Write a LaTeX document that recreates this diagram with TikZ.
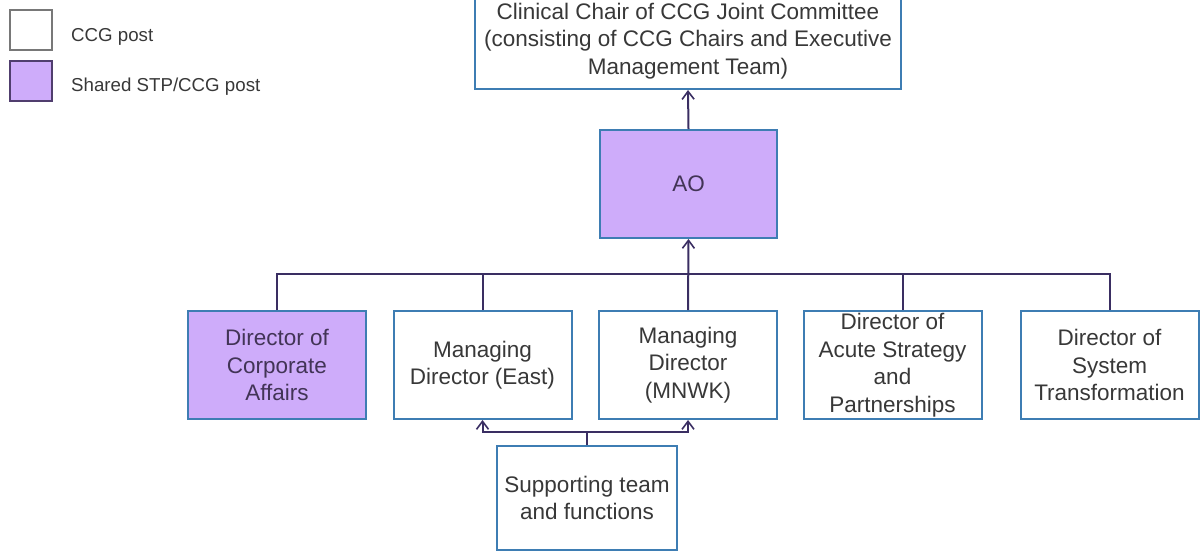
\documentclass[tikz,border=0pt]{standalone}
\usepackage{fontspec}
\setmainfont{Liberation Sans}
\usetikzlibrary{arrows.meta}
\definecolor{boxblue}{RGB}{62,125,179}
\definecolor{lilac}{RGB}{206,172,250}
\definecolor{conncol}{RGB}{58,46,98}
\definecolor{txtgray}{RGB}{56,56,56}
\definecolor{txtpurple}{RGB}{66,52,86}
\definecolor{leggray}{RGB}{120,120,120}
\definecolor{legpurple}{RGB}{80,62,110}
\begin{document}
\begin{tikzpicture}[x=1pt,y=-1pt,
  post/.style={draw=boxblue,line width=2pt,fill=white,inner sep=0pt,
    minimum width=178pt,minimum height=108pt,align=center,text=txtgray,
    font=\fontsize{22.5}{27.5}\selectfont},
  shared/.style={post,fill=lilac,text=txtpurple},
  conn/.style={draw=conncol,line width=2pt},
  arr/.style={conn,-{Straight Barb[length=8pt,width=12pt,line width=1.6pt]}},
  legbox/.style={line width=2.2pt,minimum width=42pt,minimum height=40pt,inner sep=0pt},
  legtext/.style={anchor=west,inner sep=0pt,text=txtgray,font=\fontsize{18.7}{22}\selectfont}
]
\useasboundingbox (0,0) rectangle (1200,552);

% legend
\node[legbox,draw=leggray,fill=white] (lg1) at (31,30) {};
\node[legbox,draw=legpurple,fill=lilac] (lg2) at (31,81) {};
\node[legtext] (lt1) at (71,37) {CCG post};
\node[legtext] (lt2) at (71,87) {Shared STP/CCG post};

% top
\node[post,minimum width=426pt,minimum height=96pt] (top) at (688,41)
  {Clinical Chair of CCG Joint Committee\\(consisting of CCG Chairs and Executive\\Management Team)};

% AO
\node[shared,minimum width=177pt,minimum height=108pt] (ao) at (688.5,184) {AO};

% row
\node[shared] (corp) at (277,365) {Director of\\Corporate\\Affairs};
\node[post] (east) at (482.5,365) {Managing\\Director (East)};
\node[post] (mnwk) at (688,365) {Managing\\Director\\(MNWK)};
\node[post] (acute) at (892.5,365) {Director of\\Acute Strategy\\and\\Partnerships};
\node[post] (sys) at (1109.5,365) {Director of\\System\\Transformation};

% supporting
\node[post,minimum width=180pt,minimum height=104pt] (sup) at (587,498)
  {Supporting team\\and functions};

% connectors
\coordinate (bus) at (688,274);
\draw[conn] (corp.north) |- (bus);
\draw[conn] (east.north) |- (bus);
\draw[conn] ([xshift=10.5pt]acute.north) |- (bus);
\draw[conn] (sys.north) |- (bus);
\draw[arr] (mnwk.north) -- (ao.south);
\draw[arr] (ao.north) -- (top.south);

\coordinate (sj) at (587,432);
\draw[conn] (sup.north) -- (sj);
\draw[arr] (sj) -| (east.south);
\draw[arr] (sj) -| (mnwk.south);
\end{tikzpicture}
\end{document}
